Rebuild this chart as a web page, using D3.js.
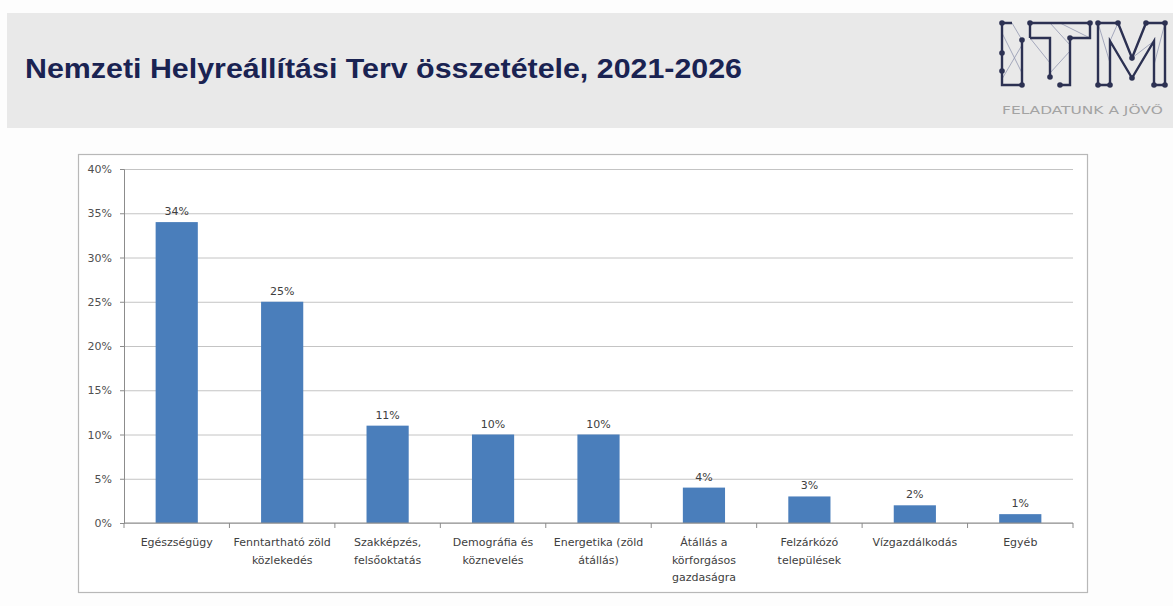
<!DOCTYPE html>
<html>
<head>
<meta charset="utf-8">
<script src="https://cdn.jsdelivr.net/npm/d3@7"></script>
<style>
  body { margin: 0; background: #fdfdfd; }
  svg { display: block; }
</style>
</head>
<body>
<svg id="chart"></svg>
<script>
// values
const categories = ["Egészségügy", "Fenntartható zöld közlekedés", "Szakképzés, felsőoktatás",
    "Demográfia és köznevelés", "Energetika (zöld átállás)", "Átállás a körforgásos gazdaságra",
    "Felzárkózó települések", "Vízgazdálkodás", "Egyéb"];
const labelLines = [["Egészségügy"], ["Fenntartható zöld", "közlekedés"], ["Szakképzés,", "felsőoktatás"],
    ["Demográfia és", "köznevelés"], ["Energetika (zöld", "átállás)"], ["Átállás a", "körforgásos", "gazdaságra"],
    ["Felzárkózó", "települések"], ["Vízgazdálkodás"], ["Egyéb"]];
const shares = [34, 25, 11, 10, 10, 4, 3, 2, 1];
const yTicks = [0, 5, 10, 15, 20, 25, 30, 35, 40];
const title = "Nemzeti Helyreállítási Terv összetétele, 2021-2026";
const slogan = "FELADATUNK A JÖVŐ";

const width = 1173, height = 606;
const svg = d3.select("#chart").attr("width", width).attr("height", height);

// header band
svg.append("rect").attr("x", 7).attr("y", 13).attr("width", width - 7).attr("height", 115).attr("fill", "#e9e9e9");
svg.append("text")
    .attr("x", 25).attr("y", 78)
    .attr("textLength", 717).attr("lengthAdjust", "spacingAndGlyphs")
    .style("font-family", "Liberation Sans, Arial, sans-serif")
    .style("font-weight", "bold").style("font-size", "27px")
    .attr("fill", "#1a2352")
    .text(title);

// logo
const logo = svg.append("g").attr("transform", "translate(1002,23)");
const thin = ["M0,10 L20,50", "M20,22 L0,56", "M10,0 L20,17", "M48,0 L68,22", "M58,0 L88,15",
    "M68,28 L48,50", "M28,15 L48,40", "M96,0 L108,40", "M163,0 L152,42", "M116,0 L108,18", "M130,35 L152,18"];
logo.selectAll("path.thin").data(thin).enter().append("path")
    .attr("d", d => d).attr("fill", "none").attr("stroke", "#9297b0").attr("stroke-width", 0.8);
const thick = ["M10,0 H0 V62 H20", "M20,17 V62", "M28,15 V0 H88 V15 H68 V62 H58", "M28,15 H48 V54",
    "M108,62 H96 V0 H116 L130,35 L144,0 H163 V62 H152", "M108,62 V18 L130,55 L152,18 V62"];
logo.selectAll("path.thick").data(thick).enter().append("path")
    .attr("d", d => d).attr("fill", "none").attr("stroke", "#2c3152").attr("stroke-width", 2.4);
const dots = [[0, 0], [0, 30], [0, 48], [20, 17], [20, 62], [28, 0], [48, 54], [68, 15], [58, 62], [88, 0],
    [96, 0], [116, 0], [130, 35], [144, 0], [163, 0], [108, 62], [152, 62], [163, 62], [130, 55], [96, 62]];
logo.selectAll("circle").data(dots).enter().append("circle")
    .attr("cx", d => d[0]).attr("cy", d => d[1]).attr("r", 2.8).attr("fill", "#2c3152");
svg.append("text")
    .attr("x", 1002).attr("y", 114)
    .attr("textLength", 161).attr("lengthAdjust", "spacingAndGlyphs")
    .style("font-family", "DejaVu Sans, sans-serif").style("font-size", "10.5px")
    .attr("fill", "#a3a3a3")
    .text(slogan);

// chart box
svg.append("rect").attr("x", 78.5).attr("y", 154.5).attr("width", 1009).attr("height", 438)
    .attr("fill", "#ffffff").attr("stroke", "#b8b8b8").attr("stroke-width", 1.2);

const plot = { left: 124, right: 1073, top: 169, bottom: 523 };

const x = d3.scaleBand()
    .domain(categories)
    .range([plot.left, plot.right])
    .paddingInner(0.6).paddingOuter(0.3);

const y = d3.scaleLinear()
    .domain([0, 40])
    .range([plot.bottom, plot.top]);

// gridlines
svg.append("g")
    .attr("transform", "translate(" + plot.left + ",0)")
    .call(d3.axisLeft(y).tickValues(yTicks).tickSize(-(plot.right - plot.left)).tickFormat(""))
    .call(g => g.select(".domain").remove())
    .call(g => g.selectAll("line").attr("stroke", "#c4c4c4"));

// y axis
svg.append("g")
    .attr("transform", "translate(" + plot.left + ",0)")
    .call(d3.axisLeft(y).tickValues(yTicks).tickSize(4).tickPadding(8).tickFormat(d => d + "%"))
    .call(g => g.select(".domain").attr("stroke", "#8c8c8c"))
    .call(g => g.selectAll("line").attr("stroke", "#8c8c8c"))
    .call(g => g.selectAll("text")
        .style("font-family", "DejaVu Sans, sans-serif").style("font-size", "11px").attr("fill", "#505050"));

// bars
svg.append("g").selectAll("rect")
    .data(shares)
    .enter().append("rect")
    .attr("x", (d, i) => x(categories[i]))
    .attr("y", d => y(d))
    .attr("width", x.bandwidth())
    .attr("height", d => y(0) - y(d))
    .attr("fill", "#4a7ebb");

// value labels
svg.append("g").selectAll("text")
    .data(shares)
    .enter().append("text")
    .attr("x", (d, i) => x(categories[i]) + x.bandwidth() / 2)
    .attr("y", d => y(d) - 7)
    .attr("text-anchor", "middle")
    .style("font-family", "DejaVu Sans, sans-serif").style("font-size", "11px")
    .attr("fill", "#404040")
    .text(d => d + "%");

// x axis with ticks between categories
const step = x.step();
const boundaries = d3.range(categories.length + 1).map(i => plot.left + i * step);
const xAxisG = svg.append("g");
xAxisG.append("line")
    .attr("x1", plot.left).attr("x2", plot.right)
    .attr("y1", plot.bottom).attr("y2", plot.bottom)
    .attr("stroke", "#8c8c8c");
xAxisG.selectAll("line.tick").data(boundaries).enter().append("line")
    .attr("x1", d => d).attr("x2", d => d)
    .attr("y1", plot.bottom).attr("y2", plot.bottom + 5)
    .attr("stroke", "#8c8c8c");

// category labels
const labels = svg.append("g").selectAll("text")
    .data(labelLines)
    .enter().append("text")
    .attr("text-anchor", "middle")
    .style("font-family", "DejaVu Sans, sans-serif").style("font-size", "11px")
    .attr("fill", "#404040");
labels.each(function (lines, i) {
    d3.select(this).selectAll("tspan")
        .data(lines)
        .enter().append("tspan")
        .attr("x", x(categories[i]) + x.bandwidth() / 2)
        .attr("y", (d, j) => plot.bottom + 23 + j * 17.5)
        .text(d => d);
});
</script>
</body>
</html>
